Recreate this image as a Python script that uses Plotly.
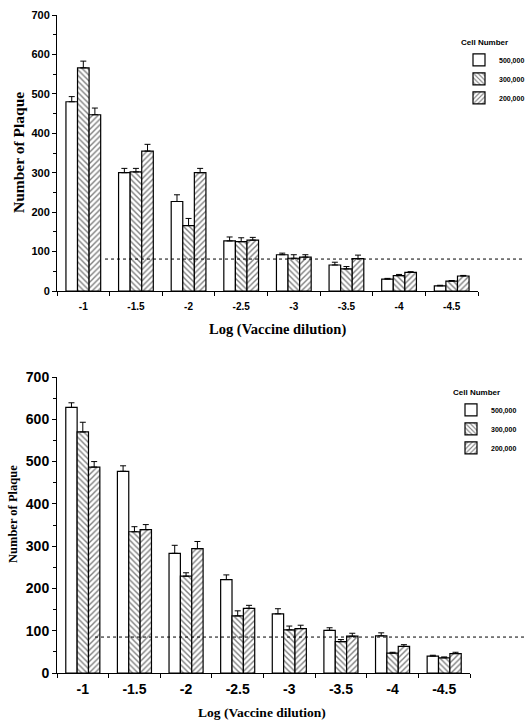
import plotly.graph_objects as go

dilutions = ["-1", "-1.5", "-2", "-2.5", "-3", "-3.5", "-4", "-4.5"]
cells = ["500,000", "300,000", "200,000"]
x_title = "Log (Vaccine dilution)"
y_title = "Number of Plaque"

# Top panel: means and upper error
top_500 = [480, 300, 227, 127, 92, 66, 30, 13]
top_500_err = [13, 11, 17, 10, 4, 7, 2, 1.5]
top_300 = [566, 302, 166, 125, 83, 56, 39, 25]
top_300_err = [17, 9, 18, 10, 9, 6, 3, 1.5]
top_200 = [447, 355, 300, 129, 86, 82, 47, 38]
top_200_err = [17, 17, 11, 7, 6, 9, 2, 1.5]
top_cutoff = 81

# Bottom panel
bot_500 = [628, 477, 283, 221, 140, 101, 88, 40]
bot_500_err = [11, 13, 19, 11, 12, 6, 7, 2]
bot_300 = [570, 334, 229, 135, 102, 74, 47, 36]
bot_300_err = [23, 12, 8, 12, 9, 5, 2, 2]
bot_200 = [487, 339, 294, 153, 105, 87, 63, 46]
bot_200_err = [13, 12, 17, 7, 8, 7, 4, 3]
bot_cutoff = 85

patterns = ["", "\\", "/"]

fig = go.Figure()

def add_panel(vals, errs, xa, ya, legend):
    for name, v, e, p in zip(cells, vals, errs, patterns):
        fig.add_trace(go.Bar(
            x=dilutions, y=v, name=name, xaxis=xa, yaxis=ya, legend=legend,
            marker=dict(color="white", line=dict(color="black", width=1.2),
                        pattern=dict(shape=p, fgcolor="black", bgcolor="white",
                                     size=4, solidity=0.35)),
            error_y=dict(type="data", array=e, arrayminus=[0] * len(e),
                         symmetric=False, color="black", thickness=1, width=3),
        ))

add_panel([top_500, top_300, top_200], [top_500_err, top_300_err, top_200_err], "x", "y", "legend")
add_panel([bot_500, bot_300, bot_200], [bot_500_err, bot_300_err, bot_200_err], "x2", "y2", "legend2")

W, H, L = 526, 720, 57
pw = W - L

def px_x(px):
    return (px - L) / pw

def px_y(py):
    return 1 - py / H

def xdom(right_px):
    return [0, px_x(right_px)]

def ydom(top_px, bot_px):
    return [px_y(bot_px), px_y(top_px)]

axis_common = dict(showline=True, linecolor="black", linewidth=1, ticks="outside",
                   tickcolor="black", ticklen=4, showgrid=False, zeroline=False,
                   automargin=False)

fig.update_layout(
    width=W, height=H, margin=dict(l=L, r=0, t=0, b=0, autoexpand=False),
    paper_bgcolor="white", plot_bgcolor="white",
    barmode="group", bargap=0.34, bargroupgap=0,
    font=dict(family="Liberation Sans", color="black"),
    xaxis=dict(domain=xdom(478), anchor="y", type="category", tickson="boundaries",
               tickfont=dict(size=10, family="Liberation Sans", weight="bold"),
               ticklabelstandoff=6, **axis_common),
    yaxis=dict(domain=ydom(15, 291), anchor="x", range=[0, 700], dtick=100,
               tickfont=dict(size=11, family="Liberation Sans", weight="bold"),
               minor=dict(dtick=50, ticks="outside", ticklen=3, tickcolor="black"),
               **axis_common),
    xaxis2=dict(domain=xdom(470), anchor="y2", type="category", tickson="boundaries",
                tickfont=dict(size=14, family="Liberation Sans", weight="bold"),
                ticklabelstandoff=3, **axis_common),
    yaxis2=dict(domain=ydom(377, 673), anchor="x2", range=[0, 700], dtick=100,
                tickfont=dict(size=14, family="Liberation Sans", weight="bold"),
                minor=dict(dtick=50, ticks="outside", ticklen=3, tickcolor="black"),
                **axis_common),
    legend=dict(x=px_x(459), y=px_y(35), xanchor="left", yanchor="top",
                title=dict(text="<b>Cell Number</b>", font=dict(size=8)),
                font=dict(size=7, weight="bold", color="black"), bgcolor="rgba(0,0,0,0)",
                itemwidth=30, tracegroupgap=0),
    legend2=dict(x=px_x(451), y=px_y(385), xanchor="left", yanchor="top",
                 title=dict(text="<b>Cell Number</b>", font=dict(size=8)),
                 font=dict(size=7, weight="bold", color="black"), bgcolor="rgba(0,0,0,0)",
                 itemwidth=30, tracegroupgap=0),
    showlegend=True,
)

serif = "Liberation Serif"
title_specs = [
    (x_title, px_x(277), px_y(330), 0, 14.5),
    (x_title, px_x(262), px_y(712), 0, 13.5),
    (y_title, px_x(18), px_y(153), -90, 15.5),
    (y_title, px_x(13), px_y(514), -90, 12.5),
]
for text, ax, ay, ang, size in title_specs:
    fig.add_annotation(text=f"<b>{text}</b>", xref="paper", yref="paper", x=ax, y=ay,
                       xanchor="center", yanchor="middle", textangle=ang, showarrow=False,
                       font=dict(family=serif, size=size, color="black"))

# Dashed cutoff lines
fig.add_shape(type="line", xref="paper", yref="y", x0=px_x(105), x1=px_x(523),
              y0=top_cutoff, y1=top_cutoff, line=dict(color="black", width=1, dash="3px,3px"))
fig.add_shape(type="line", xref="paper", yref="y2", x0=px_x(95), x1=1.0,
              y0=bot_cutoff, y1=bot_cutoff, line=dict(color="black", width=1, dash="3px,3px"))

fig.write_html("out.html", config={"displayModeBar": False},
               post_script="document.body.style.margin='0';document.body.style.overflow='hidden';")
